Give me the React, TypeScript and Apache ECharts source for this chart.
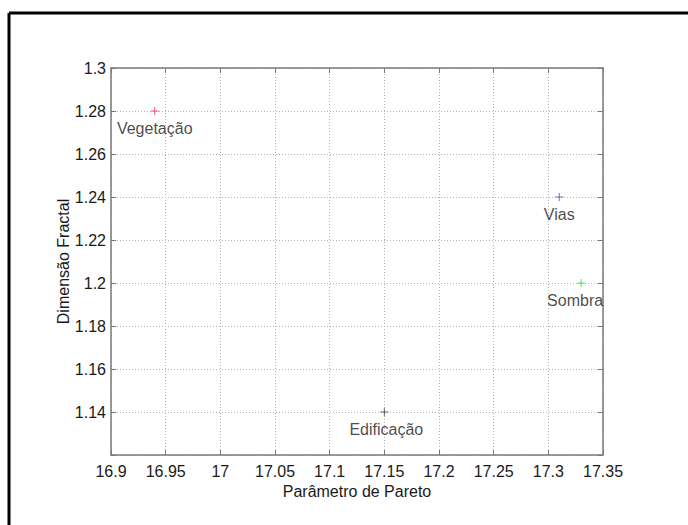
import React, { useEffect, useRef } from "react";
import * as echarts from "echarts";

const classNames = ["Vegetação", "Vias", "Sombra", "Edificação"];
const paretoValues = [16.94, 17.31, 17.33, 17.15];
const fractalValues = [1.28, 1.24, 1.2, 1.14];
const markerColors = ["#e0306a", "#4a4ac8", "#3ccf3c", "#404040"];
const labelShiftX = [0, 0, -6, 2];

const xTitle = "Parâmetro de Pareto";
const yTitle = "Dimensão Fractal";

const FONT = "Liberation Sans, Arial, sans-serif";
const PLUS = "path://M5 0 L5 10 M0 5 L10 5";

export default function App() {
  const ref = useRef<HTMLDivElement>(null);
  useEffect(() => {
    document.body.style.margin = "0";
    const chart = echarts.init(ref.current!, null, { renderer: "svg" });
    const series = classNames.map((name, i) => ({
      type: "scatter",
      name,
      xAxisIndex: 0,
      yAxisIndex: 0,
      symbol: PLUS,
      symbolSize: 8,
      itemStyle: { color: "rgba(0,0,0,0)", borderColor: markerColors[i], borderWidth: 1 },
      label: {
        show: true,
        position: "bottom",
        distance: 5,
        offset: [labelShiftX[i], 0],
        formatter: name,
        color: "#1a1a1a",
        fontSize: 16,
        fontFamily: FONT,
      },
      data: [[paretoValues[i], fractalValues[i]]],
    }));
    const gridLine = { show: true, lineStyle: { color: "#b5b5b5", type: [1, 2], width: 1 } };
    const axisLine = { show: true, lineStyle: { color: "#7a7a7a", width: 1.5 } };
    const tick = { show: true, inside: true, length: 5, lineStyle: { color: "#7a7a7a" } };
    chart.setOption({
      animation: false,
      backgroundColor: "#fff",
      textStyle: { fontFamily: FONT },
      grid: { left: 111, top: 68, width: 492, height: 387, containLabel: false },
      xAxis: [
        {
          type: "value",
          min: 16.9,
          max: 17.35,
          interval: 0.05,
          position: "bottom",
          name: xTitle,
          nameLocation: "middle",
          nameGap: 27,
          nameTextStyle: { fontSize: 16, color: "#1a1a1a", fontFamily: FONT },
          axisLine,
          axisTick: tick,
          axisLabel: {
            fontSize: 16,
            color: "#1a1a1a",
            margin: 8,
            fontFamily: FONT,
            formatter: (v: number) => String(+v.toFixed(2)),
          },
          splitLine: gridLine,
        },
        {
          type: "value",
          min: 16.9,
          max: 17.35,
          interval: 0.05,
          position: "top",
          axisLine,
          axisTick: tick,
          axisLabel: { show: false },
          splitLine: { show: false },
        },
      ],
      yAxis: [
        {
          type: "value",
          min: 1.12,
          max: 1.3,
          interval: 0.02,
          position: "left",
          name: yTitle,
          nameLocation: "middle",
          nameGap: 40,
          nameMoveOverlap: false,
          nameRotate: 90,
          nameTextStyle: { fontSize: 16, color: "#1a1a1a", fontFamily: FONT },
          axisLine,
          axisTick: tick,
          axisLabel: {
            fontSize: 16,
            color: "#1a1a1a",
            margin: 5,
            fontFamily: FONT,
            formatter: (v: number) => (Math.abs(v - 1.12) < 1e-6 ? "" : String(+v.toFixed(2))),
          },
          splitLine: gridLine,
        },
        {
          type: "value",
          min: 1.12,
          max: 1.3,
          interval: 0.02,
          position: "right",
          axisLine,
          axisTick: tick,
          axisLabel: { show: false },
          splitLine: { show: false },
        },
      ],
      graphic: [
        { type: "line", shape: { x1: 9, y1: 13, x2: 688, y2: 13 }, style: { stroke: "#000", lineWidth: 3 } },
        { type: "line", shape: { x1: 9, y1: 13, x2: 9, y2: 525 }, style: { stroke: "#000", lineWidth: 3 } },
      ],
      series,
    });
    return () => chart.dispose();
  }, []);
  return <div ref={ref} style={{ width: 688, height: 525 }} />;
}
